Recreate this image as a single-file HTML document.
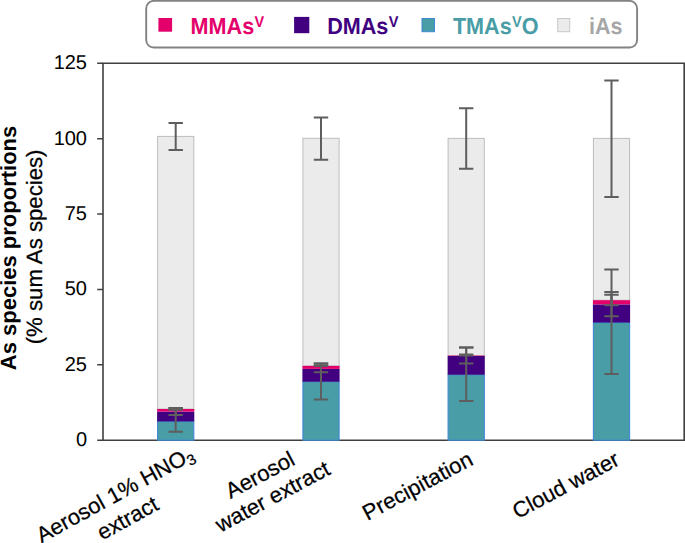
<!DOCTYPE html>
<html><head><meta charset="utf-8">
<style>
html,body{margin:0;padding:0;background:#fff;}
body{width:685px;height:543px;overflow:hidden;}
svg{display:block;}
text{font-family:"Liberation Sans",sans-serif;text-rendering:geometricPrecision;}
</style></head>
<body>
<svg width="685" height="543" viewBox="0 0 685 543">
<rect x="0" y="0" width="685" height="543" fill="#fff"/>

<rect x="146.2" y="0.9" width="490.9" height="46.6" rx="7.5" ry="7.5" fill="#fff" stroke="#828282" stroke-width="1.9"/>
<rect x="158.4" y="18" width="13.7" height="13.7" fill="#E3006B"/>
<rect x="294.1" y="16.9" width="15.2" height="16.3" fill="#40007F"/>
<rect x="422" y="18.5" width="12.5" height="13.2" fill="#489DA6" stroke="#3F87D4" stroke-width="1"/>
<rect x="557.7" y="18.5" width="12" height="13.2" fill="#EBEBEB" stroke="#C8C8C8" stroke-width="1"/>
<g transform="translate(0 34.0) scale(1 1.07) translate(0 -34.0)" font-size="21.6" font-weight="bold">
<text x="190.6" y="34.0" fill="#E3006B">MMAs<tspan font-size="14.5" dx="0.3" dy="-6.3">V</tspan></text>
<text x="327.2" y="34.0" fill="#40007F">DMAs<tspan font-size="14.5" dx="0.3" dy="-6.3">V</tspan></text>
<text x="452.9" y="34.0" fill="#489DA6">TMAs<tspan font-size="14.5" dx="0.3" dy="-6.3">V</tspan><tspan dy="6.3">O</tspan></text>
<text x="589" y="34.0" fill="#A6A6A6">iAs</text></g>

<g stroke="#404040" stroke-width="1.6" fill="none"><path d="M103.0 63.3 H684.2 V440.2 H103.0 Z"/>
<path d="M97.2 440.20 H103.0 M97.2 364.82 H103.0 M97.2 289.44 H103.0 M97.2 214.06 H103.0 M97.2 138.68 H103.0 M97.2 63.30 H103.0"/></g>
<g font-size="20" fill="#000" text-anchor="end">
<text x="87" y="69.20">125</text>
<text x="87" y="144.58">100</text>
<text x="87" y="219.96">75</text>
<text x="87" y="295.34">50</text>
<text x="87" y="370.72">25</text>
<text x="87" y="446.10">0</text>
</g>
<g transform="translate(16.2,248) rotate(-90)"><text x="0" y="0" font-size="22" font-weight="bold" text-anchor="middle" fill="#000">As species proportions</text></g>
<g transform="translate(41.8,246.9) rotate(-90)"><text x="0" y="0" font-size="22.2" text-anchor="middle" fill="#000" stroke="#000" stroke-width="0.25">(% sum As species)</text></g>

<rect x="157.60" y="136.4" width="36.2" height="272.60" fill="#EBEBEB" stroke="#BDBDBD" stroke-width="1"/>
<rect x="157.60" y="421.4" width="36.2" height="18.80" fill="#489DA6" stroke="#3F87D4" stroke-width="1.1"/>
<rect x="157.10" y="411.6" width="37.2" height="9.80" fill="#40007F"/>
<rect x="157.10" y="409.0" width="37.2" height="2.60" fill="#E3006B"/>
<rect x="302.90" y="138.3" width="36.2" height="227.60" fill="#EBEBEB" stroke="#BDBDBD" stroke-width="1"/>
<rect x="302.90" y="381.7" width="36.2" height="58.50" fill="#489DA6" stroke="#3F87D4" stroke-width="1.1"/>
<rect x="302.40" y="368.9" width="37.2" height="12.80" fill="#40007F"/>
<rect x="302.40" y="365.9" width="37.2" height="3.00" fill="#E3006B"/>
<rect x="448.10" y="138.4" width="36.2" height="217.20" fill="#EBEBEB" stroke="#BDBDBD" stroke-width="1"/>
<rect x="448.10" y="374.7" width="36.2" height="65.50" fill="#489DA6" stroke="#3F87D4" stroke-width="1.1"/>
<rect x="447.60" y="356.0" width="37.2" height="18.70" fill="#40007F"/>
<rect x="447.60" y="355.6" width="37.2" height="0.40" fill="#E3006B"/>
<rect x="593.40" y="138.4" width="36.2" height="161.80" fill="#EBEBEB" stroke="#BDBDBD" stroke-width="1"/>
<rect x="593.40" y="322.5" width="36.2" height="117.70" fill="#489DA6" stroke="#3F87D4" stroke-width="1.1"/>
<rect x="592.90" y="304.4" width="37.2" height="18.10" fill="#40007F"/>
<rect x="592.90" y="300.2" width="37.2" height="4.20" fill="#E3006B"/>
<g stroke="#5E5E5E" stroke-width="2" fill="none">
<path d="M175.70 122.9 V149.9 M168.50 122.9 H182.90 M168.50 149.9 H182.90"/>
<path d="M175.70 409.6 V431.8 M168.50 409.6 H182.90 M168.50 431.8 H182.90"/>
<path d="M175.70 408.0 V414.9 M168.50 408.0 H182.90 M168.50 414.9 H182.90"/>
<path d="M175.70 408.0 V409.6 M168.50 408.0 H182.90 M168.50 409.6 H182.90"/>
<path d="M321.00 117.4 V159.7 M313.80 117.4 H328.20 M313.80 159.7 H328.20"/>
<path d="M321.00 363.5 V399.6 M313.80 363.5 H328.20 M313.80 399.6 H328.20"/>
<path d="M321.00 365.7 V372.3 M313.80 365.7 H328.20 M313.80 372.3 H328.20"/>
<path d="M321.00 363.5 V365.7 M313.80 363.5 H328.20 M313.80 365.7 H328.20"/>
<path d="M466.20 108.3 V168.8 M459.00 108.3 H473.40 M459.00 168.8 H473.40"/>
<path d="M466.20 347.6 V400.9 M459.00 347.6 H473.40 M459.00 400.9 H473.40"/>
<path d="M466.20 347.6 V363.5 M459.00 347.6 H473.40 M459.00 363.5 H473.40"/>
<path d="M466.20 354.6 V355.6 M459.00 354.6 H473.40 M459.00 355.6 H473.40"/>
<path d="M611.50 80.4 V196.9 M604.30 80.4 H618.70 M604.30 196.9 H618.70"/>
<path d="M611.50 269.4 V374.1 M604.30 269.4 H618.70 M604.30 374.1 H618.70"/>
<path d="M611.50 294.7 V316.3 M604.30 294.7 H618.70 M604.30 316.3 H618.70"/>
<path d="M611.50 292.1 V305.2 M604.30 292.1 H618.70 M604.30 305.2 H618.70"/>
</g>
<g font-size="22" fill="#000" text-anchor="middle" stroke="#000" stroke-width="0.25">
<g transform="translate(118.5,501) rotate(-28.7)"><text x="0" y="0">Aerosol 1% HNO<tspan font-size="15" dy="4">3</tspan></text><text x="-0.3" y="26.9">extract</text></g>
<g transform="translate(263.4,481.5) rotate(-28)"><text x="0" y="0">Aerosol</text><text x="1.1" y="25.1">water extract</text></g>
<g transform="translate(421,492.5) rotate(-28)"><text x="0" y="0">Precipitation</text></g>
<g transform="translate(569.2,491.7) rotate(-28)"><text x="0" y="0">Cloud water</text></g>
</g>

</svg>
</body></html>
